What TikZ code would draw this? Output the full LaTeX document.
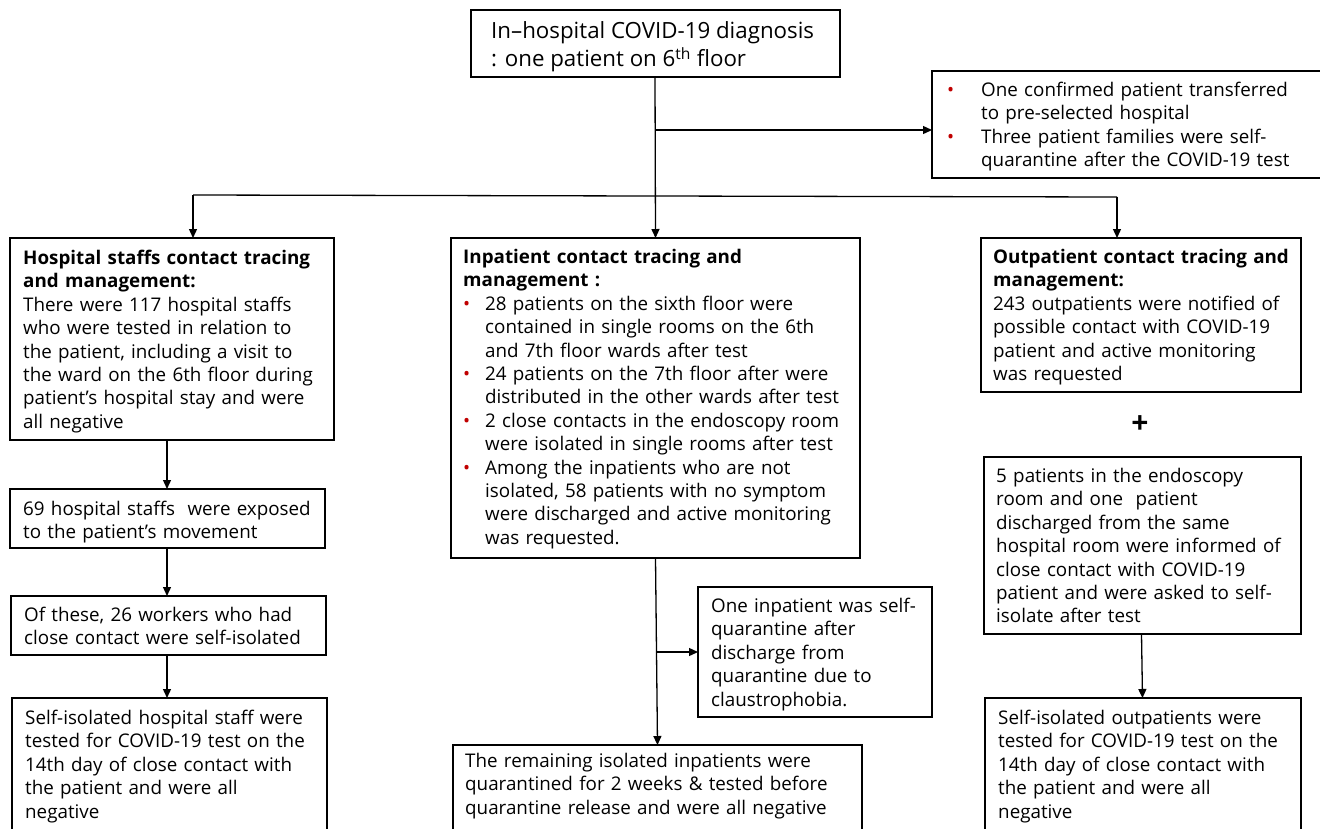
\documentclass[tikz,border=0pt]{standalone}
\usepackage{fontspec}
\setmainfont{Open Sans}
\usetikzlibrary{arrows.meta}
\definecolor{bulred}{RGB}{192,0,0}
\newcommand\bulA[1]{\makebox[#1][l]{\textcolor{bulred}{•}}}
\begin{document}
\begin{tikzpicture}[x=1pt,y=-1pt,
  box/.style={draw=black,line width=1.3pt,anchor=north west,inner sep=0pt,outer sep=0pt},
  txt/.style={anchor=north west,inner sep=0pt,align=left,font=\fontsize{18.8}{23.4}\selectfont},
  bigtxt/.style={anchor=north west,inner sep=0pt,align=left,font=\fontsize{22.3}{25}\selectfont},
  arr/.style={line width=1.3pt,-{Triangle[length=9pt,width=8pt]}},
  ln/.style={line width=1.3pt}]
\useasboundingbox (0,0) rectangle (1320,828);
% boxes
\node[box,minimum width=369pt,minimum height=67pt] (top) at (471,10) {};
\node[box,minimum width=390pt,minimum height=107pt] (tr) at (932,71) {};
\node[box,minimum width=324pt,minimum height=202pt] (staff) at (10,238) {};
\node[box,minimum width=315pt,minimum height=59pt] (s2) at (10,489) {};
\node[box,minimum width=315pt,minimum height=59pt] (s3) at (11,596) {};
\node[box,minimum width=315pt,minimum height=160pt] (s4) at (12,698) {};
\node[box,minimum width=409pt,minimum height=320pt] (inp) at (451,238) {};
\node[box,minimum width=234pt,minimum height=130pt] (side) at (698,587) {};
\node[box,minimum width=409pt,minimum height=120pt] (inp2) at (453,745) {};
\node[box,minimum width=320pt,minimum height=154pt] (out) at (981,238) {};
\node[box,minimum width=317pt,minimum height=177pt] (out2) at (984,457) {};
\node[box,minimum width=316pt,minimum height=160pt] (out3) at (985,698) {};
% texts
\node[bigtxt] (ttop) at (491,21) {\strut In–hospital COVID-19 diagnosis\\: one patient on 6\textsuperscript{th} floor};
\node[txt,text width=380pt] (ttr) at (947,80) {\strut\bulA{34pt}One confirmed patient transferred\\\hspace*{34pt}to pre-selected hospital\\\bulA{34pt}Three patient families were self-\\\hspace*{34pt}quarantine after the COVID-19 test};
\node[txt,text width=320pt] (tstaff) at (23,248) {\strut\textbf{Hospital staffs contact tracing}\\\textbf{and management:}\\There were 117 hospital staffs\\who were tested in relation to\\the patient, including a visit to\\the ward on the 6th floor during\\patient’s hospital stay and were\\all negative};
\node[txt,text width=315pt] (ts2) at (23,499) {\strut 69 hospital staffs~ were exposed\\to the patient’s movement};
\node[txt,text width=315pt] (ts3) at (24,605) {\strut Of these, 26 workers who had\\close contact were self-isolated};
\node[txt,text width=315pt] (ts4) at (25,708) {\strut Self-isolated hospital staff were\\tested for COVID-19 test on the\\14th day of close contact with\\the patient and were all\\negative};
\node[txt,text width=405pt] (tinp) at (463,247) {\strut\textbf{Inpatient contact tracing and}\\\textbf{management :}\\\bulA{22pt}28 patients on the sixth floor were\\\hspace*{22pt}contained in single rooms on the 6th\\\hspace*{22pt}and 7th floor wards after test\\\bulA{22pt}24 patients on the 7th floor after were\\\hspace*{22pt}distributed in the other wards after test\\\bulA{22pt}2 close contacts in the endoscopy room\\\hspace*{22pt}were isolated in single rooms after test\\\bulA{22pt}Among the inpatients who are not\\\hspace*{22pt}isolated, 58 patients with no symptom\\\hspace*{22pt}were discharged and active monitoring\\\hspace*{22pt}was requested.};
\node[txt,text width=230pt] (tside) at (711,596) {\strut One inpatient was self-\\quarantine after\\discharge from\\quarantine due to\\claustrophobia.};
\node[txt,text width=405pt] (tinp2) at (465,751) {\strut The remaining isolated inpatients were\\quarantined for 2 weeks \& tested before\\quarantine release and were all negative};
\node[txt,text width=320pt] (tout) at (993,247) {\strut\textbf{Outpatient contact tracing and}\\\textbf{management:}\\243 outpatients were notified of\\possible contact with COVID-19\\patient and active monitoring\\was requested};
\node[font=\fontsize{30}{30}\selectfont\bfseries,inner sep=0pt] (plus) at (1140,425) {+};
\node[txt,text width=315pt] (tout2) at (996,466) {\strut 5 patients in the endoscopy\\room and one~ patient\\discharged from the same\\hospital room were informed of\\close contact with COVID-19\\patient and were asked to self-\\isolate after test};
\node[txt,text width=315pt] (tout3) at (998,708) {\strut Self-isolated outpatients were\\tested for COVID-19 test on the\\14th day of close contact with\\the patient and were all\\negative};
% connectors
\coordinate (b1) at (655,130);
\coordinate (jL) at (193,195);
\coordinate (jR) at (1117,197);
\coordinate (b2) at (657,652);
\draw[arr] ([xshift=-0.5pt]top.south) -- (inp.north);
\draw[arr] (b1) -- (b1 -| tr.west);
\draw[ln] (jL) -- (jR);
\draw[arr] (jL) -- (jL |- staff.north);
\draw[arr] (jR) -- (jR |- out.north);
\draw[arr] ([xshift=-5pt]staff.south) -- ([xshift=-0.5pt]s2.north);
\draw[arr] ([xshift=-0.5pt]s2.south) -- ([xshift=-1.5pt]s3.north);
\draw[arr] ([xshift=-1.5pt]s3.south) -- ([xshift=-2.5pt]s4.north);
\draw[arr] (inp.south) -- (inp2.north);
\draw[arr] (b2) -- (side.west);
\draw[arr] ([xshift=-1pt]out2.south) -- (out2.south |- out3.north);
\end{tikzpicture}
\end{document}
